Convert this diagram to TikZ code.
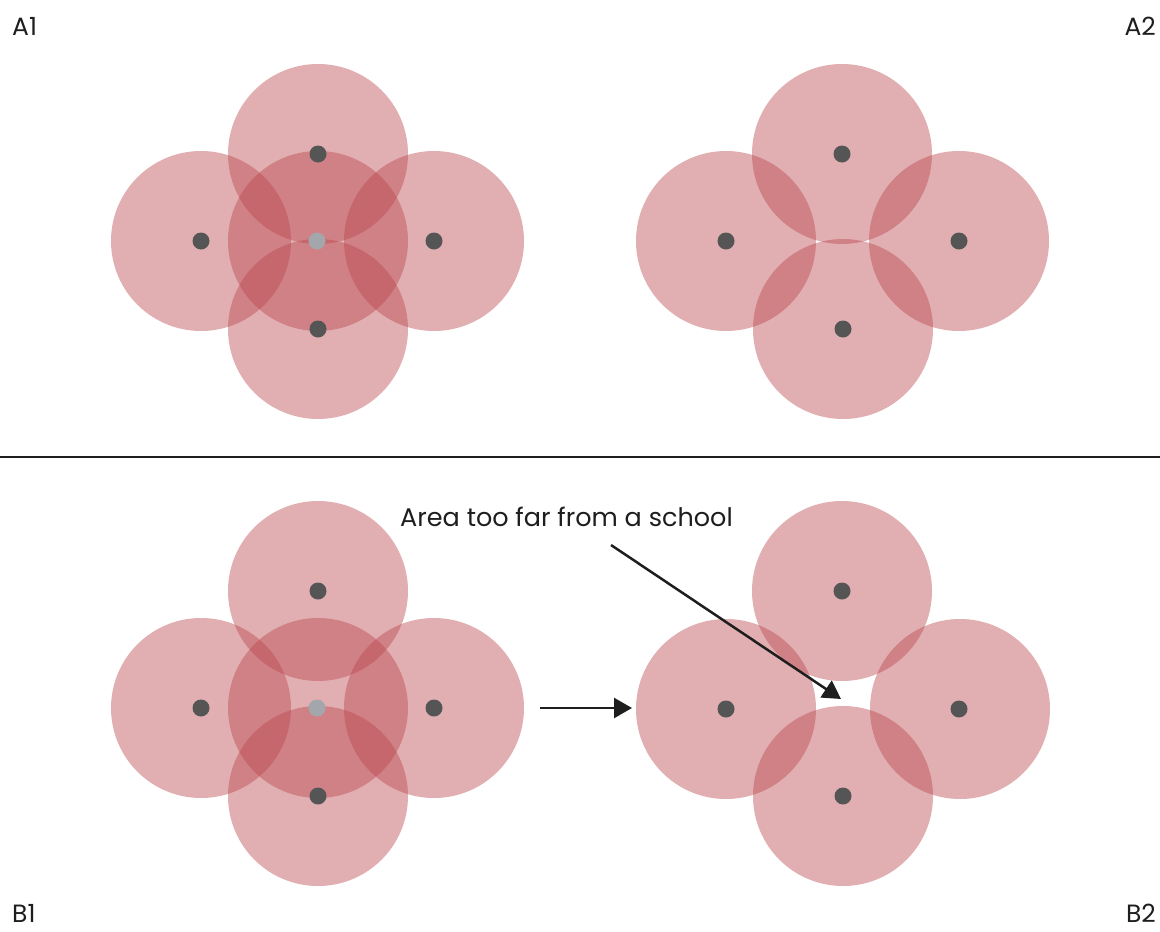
\documentclass[tikz,border=0pt]{standalone}
\usepackage{fontspec}
\setmainfont{Poppins}
\usetikzlibrary{arrows.meta}
\definecolor{zone}{RGB}{185,69,76}
\definecolor{school}{RGB}{85,85,85}
\definecolor{closed}{RGB}{163,167,171}
\definecolor{ink}{RGB}{30,30,30}
\tikzset{
  zonecircle/.style={circle, fill=zone, fill opacity=0.43, minimum size=180pt, inner sep=0pt, draw=none},
  schooldot/.style={circle, fill=school, minimum size=17pt, inner sep=0pt},
  closeddot/.style={circle, fill=closed, minimum size=17pt, inner sep=0pt},
  panellabel/.style={text=ink, font=\fontsize{25}{30}\selectfont, inner sep=0pt},
  notelabel/.style={text=ink, font=\fontsize{25.5}{30}\selectfont, inner sep=0pt},
  pointer/.style={draw=ink, line width=2.5pt, -{Triangle[length=18pt,width=20pt]}}
}
\begin{document}
\begin{tikzpicture}[x=1pt,y=-1pt]
\useasboundingbox (0,0) rectangle (1160,932);
% A1
\foreach \n/\x/\y in {a1t/318/154, a1l/201/241, a1r/434/241, a1b/318/329, a1c/318/241}
  \node[zonecircle] (\n) at (\x,\y) {};
\foreach \n/\x/\y in {a1td/318/154, a1ld/201/241, a1rd/434/241, a1bd/318/329}
  \node[schooldot] (\n) at (\x,\y) {};
\node[closeddot] (a1cd) at (317,241) {};
% A2
\foreach \n/\x/\y in {a2t/842/154, a2l/726/241, a2r/959/241, a2b/843/329}
  \node[zonecircle] (\n) at (\x,\y) {};
\foreach \n/\x/\y in {a2td/842/154, a2ld/726/241, a2rd/959/241, a2bd/843/329}
  \node[schooldot] (\n) at (\x,\y) {};
% B1
\foreach \n/\x/\y in {b1t/318/591, b1l/201/708, b1r/434/708, b1b/318/796, b1c/318/708}
  \node[zonecircle] (\n) at (\x,\y) {};
\foreach \n/\x/\y in {b1td/318/591, b1ld/201/708, b1rd/434/708, b1bd/318/796}
  \node[schooldot] (\n) at (\x,\y) {};
\node[closeddot] (b1cd) at (317,708) {};
% B2
\foreach \n/\x/\y in {b2t/842/591, b2l/726/709, b2r/960/709, b2b/843/796}
  \node[zonecircle] (\n) at (\x,\y) {};
\foreach \n/\x/\y in {b2td/842/591, b2ld/726/709, b2rd/959/709, b2bd/843/796}
  \node[schooldot] (\n) at (\x,\y) {};
% divider
\coordinate (divl) at (0,457);
\coordinate (divr) at (1160,457);
\draw[draw=ink, line width=2pt] (divl) -- (divr);
% labels
\node[panellabel, anchor=base west] (la1) at (12,35) {A1};
\node[panellabel, anchor=base east] (la2) at (1156,35) {A2};
\node[panellabel, anchor=base west] (lb1) at (12,922) {B1};
\node[panellabel, anchor=base east] (lb2) at (1156,922) {B2};
\node[notelabel, anchor=base west] (note) at (400,526) {Area too far from a school};
% arrows
\coordinate (notetail) at (611,545);
\coordinate (gap) at (841,699);
\draw[pointer] (notetail) -- (gap);
\coordinate (chgtail) at (540,708);
\coordinate (chghead) at (632,708);
\draw[pointer] (chgtail) -- (chghead);
\end{tikzpicture}
\end{document}
